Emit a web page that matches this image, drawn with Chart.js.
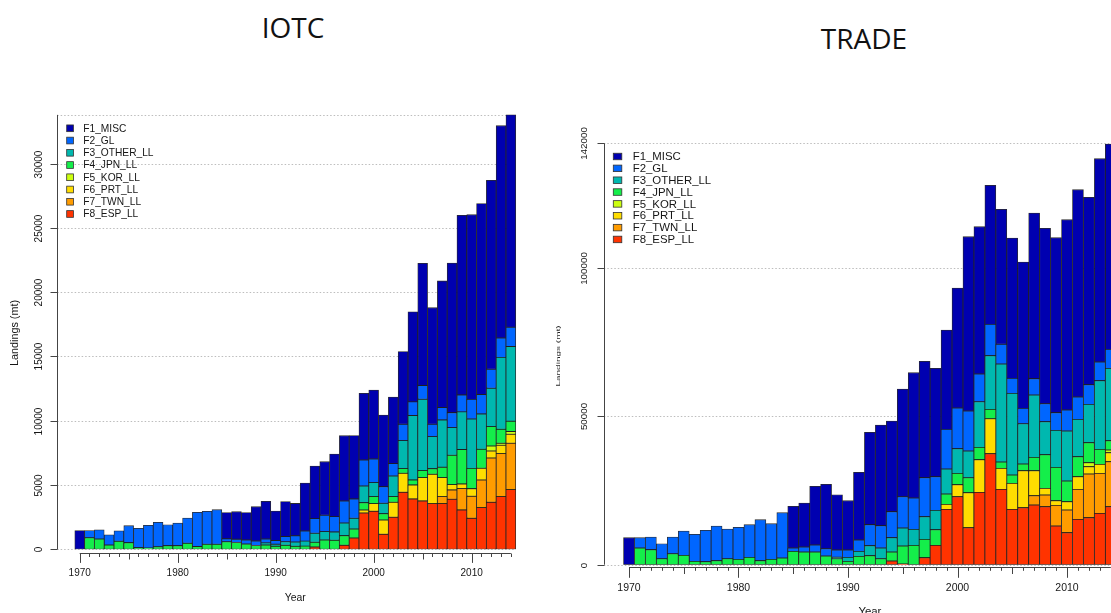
<!DOCTYPE html>
<html>
<head>
<meta charset="utf-8">
<script src="https://cdn.jsdelivr.net/npm/chart.js@4.4.1/dist/chart.umd.min.js"></script>
<style>
  html, body { margin: 0; padding: 0; width: 1111px; height: 613px; overflow: hidden; background: #fff; }
  .panel-title { position: absolute; font-family: "Open Sans", "Noto Sans", sans-serif; font-size: 28px;
                 color: #111; transform: translate(-50%, -50%); white-space: nowrap; line-height: 1; }
  canvas { position: absolute; top: 0; }
</style>
</head>
<body>
<div class="panel-title" style="left:293px; top:27px;">IOTC</div>
<div class="panel-title" style="left:864px; top:38px;">TRADE</div>
<canvas id="iotc" width="550" height="613" style="left:0px;"></canvas>
<canvas id="trade" width="610" height="613" style="left:550px;"></canvas>

<script>
// Years on the x axis
const years = [
  1970, 1971, 1972, 1973, 1974, 1975, 1976, 1977, 1978, 1979,
  1980, 1981, 1982, 1983, 1984, 1985, 1986, 1987, 1988, 1989,
  1990, 1991, 1992, 1993, 1994, 1995, 1996, 1997, 1998, 1999,
  2000, 2001, 2002, 2003, 2004, 2005, 2006, 2007, 2008, 2009,
  2010, 2011, 2012, 2013, 2014
];
const yearLabels = [1970, 1980, 1990, 2000, 2010];

const fleetNames = ['F1_MISC', 'F2_GL', 'F3_OTHER_LL', 'F4_JPN_LL', 'F5_KOR_LL', 'F6_PRT_LL', 'F7_TWN_LL', 'F8_ESP_LL'];
const fleetColors = ['#0000B0', '#0066FF', '#00B8AF', '#14EE4A', '#CCFF10', '#FFDD00', '#FF9C00', '#FF3300'];

// ---- IOTC landings (mt), one row per decade ----
const iotcF1 = [
  1450, 0, 0, 0, 0, 0, 0, 0, 0, 0,
  0, 0, 0, 0, 0, 2030, 2140, 2140, 2670, 2930,
  2300, 2720, 2515, 3720, 4095, 4170, 4870, 5080, 4925, 5185,
  5365, 5575, 5185, 5650, 7000, 9510, 9070, 9850, 11635, 13970,
  14360, 14850, 14695, 16510, 16510
];
const iotcF2 = [
  0, 550, 720, 800, 820, 1320, 1500, 1760, 1900, 1630,
  1765, 1970, 2650, 2565, 2690, 230, 255, 310, 350, 300,
  280, 400, 480, 790, 1140, 1270, 1190, 1710, 1505, 2020,
  1840, 1295, 960, 1270, 1065, 1065, 960, 960, 1165, 1320,
  1530, 1505, 1480, 1505, 1505
];
const iotcF3 = [
  0, 0, 0, 0, 0, 0, 0, 0, 0, 0,
  0, 0, 0, 0, 0, 0, 0, 0, 0, 170,
  170, 280, 340, 390, 700, 650, 650, 985, 830, 1295,
  1090, 805, 1605, 2175, 5005, 5545, 2490, 3680, 2150, 2930,
  3835, 2750, 2980, 5595, 5805
];
const iotcF4 = [
  0, 900, 800, 330, 620, 515, 130, 100, 200, 280,
  280, 465, 225, 390, 390, 590, 530, 410, 295, 330,
  230, 310, 230, 245, 365, 725, 700, 750, 700, 570,
  545, 490, 440, 365, 390, 545, 440, 805, 2280, 2670,
  1580, 1475, 1505, 1090, 805
];
const iotcF5 = [
  0, 0, 0, 0, 0, 0, 0, 0, 0, 0,
  0, 0, 0, 0, 0, 0, 0, 0, 0, 0,
  0, 0, 0, 0, 0, 0, 0, 0, 0, 0,
  0, 0, 0, 0, 0, 0, 0, 0, 0, 0,
  0, 0, 390, 150, 210
];
const iotcF6 = [
  0, 0, 0, 0, 0, 0, 0, 0, 0, 0,
  0, 0, 0, 0, 0, 0, 0, 0, 0, 0,
  0, 0, 0, 0, 0, 0, 0, 0, 0, 230,
  595, 1115, 1165, 1480, 1090, 1815, 2280, 1480, 415, 365,
  595, 910, 545, 650, 700
];
const iotcF7 = [
  0, 0, 0, 0, 0, 0, 0, 0, 0, 0,
  0, 0, 0, 0, 0, 0, 0, 0, 0, 0,
  0, 0, 0, 0, 0, 0, 0, 0, 0, 0,
  0, 0, 0, 0, 0, 0, 0, 545, 725, 1660,
  1710, 2150, 3445, 3345, 3605
];
const iotcF8 = [
  0, 0, 0, 0, 0, 0, 0, 0, 0, 0,
  0, 0, 0, 0, 0, 0, 0, 0, 0, 0,
  0, 0, 0, 0, 180, 0, 0, 310, 880, 2825,
  2955, 1165, 2490, 4430, 3915, 3760, 3550, 3550, 3890, 3060,
  2410, 3240, 3655, 4095, 4640
];
const iotcYTicks = [0, 5000, 10000, 15000, 20000, 25000, 30000];

// ---- TRADE landings (mt), one row per decade ----
const tradeF1 = [
  9100, 0, 0, 0, 0, 0, 0, 0, 0, 0,
  0, 0, 0, 0, 0, 14045, 14830, 19770, 21680, 18650,
  16630, 22805, 31120, 33930, 30560, 36290, 42240, 39210, 36510, 33490,
  40455, 58770, 49670, 46855, 45505, 47310, 49330, 55845, 59105, 58995,
  64160, 69890, 63150, 68540, 69215
];
const tradeF2 = [
  0, 3485, 4270, 5055, 5620, 8200, 9100, 10560, 11685, 10000,
  10785, 11010, 13820, 12020, 15280, 1125, 1685, 2360, 2470, 2420,
  2470, 3820, 7080, 7530, 8765, 10560, 10560, 13145, 11350, 13370,
  13705, 13480, 9325, 10560, 6635, 5055, 5170, 5505, 6065, 5955,
  7080, 7530, 6630, 6290, 6405
];
const tradeF3 = [
  0, 0, 0, 0, 0, 0, 0, 0, 0, 0,
  0, 0, 0, 0, 0, 0, 0, 0, 0, 500,
  1350, 1685, 3370, 3595, 4830, 6065, 5395, 7640, 6515, 8425,
  8315, 8990, 15390, 18095, 33030, 27525, 13595, 21010, 11120, 12470,
  16850, 12580, 12920, 23145, 24380
];
const tradeF4 = [
  0, 5615, 5055, 2020, 3705, 3145, 1125, 1010, 1350, 2020,
  1800, 2470, 1350, 1800, 2245, 4495, 4270, 4270, 2920, 2020,
  1125, 2810, 3035, 2020, 3035, 6065, 6515, 6180, 5280, 3485,
  3820, 5055, 4155, 3145, 2135, 2810, 2245, 4495, 11345, 11235,
  6965, 6740, 6740, 5055, 3145
];
const tradeF5 = [
  0, 0, 0, 0, 0, 0, 0, 0, 0, 0,
  0, 0, 0, 0, 0, 0, 0, 0, 0, 0,
  0, 0, 0, 0, 0, 0, 0, 0, 0, 0,
  0, 0, 0, 0, 0, 0, 0, 0, 0, 0,
  0, 0, 1350, 0, 900
];
const tradeF6 = [
  0, 0, 0, 0, 0, 0, 0, 0, 0, 0,
  0, 0, 0, 0, 0, 0, 0, 0, 0, 0,
  0, 0, 0, 0, 0, 0, 0, 0, 0, 1685,
  4045, 11795, 11010, 11795, 7080, 8765, 12470, 8425, 2245, 1575,
  2810, 4270, 2470, 3035, 3035
];
const tradeF7 = [
  0, 0, 0, 0, 0, 0, 0, 0, 0, 0,
  0, 0, 0, 0, 0, 0, 0, 0, 0, 0,
  0, 0, 0, 0, 0, 0, 0, 0, 0, 0,
  0, 0, 0, 0, 0, 0, 0, 3145, 3935, 6965,
  7640, 10110, 14720, 13480, 15165
];
const tradeF8 = [
  0, 0, 0, 0, 0, 0, 0, 0, 0, 0,
  0, 0, 0, 0, 0, 0, 0, 0, 0, 0,
  0, 0, 0, 0, 1235, 225, 0, 2360, 6515, 18650,
  22920, 12470, 24380, 37410, 25390, 18650, 19210, 20110, 19550, 13030,
  10785, 15280, 15840, 17300, 19550
];
const tradeYTicks = [0, 50000, 100000, 142000];

const FONT = '"Liberation Sans", Arial, Helvetica, sans-serif';
const TEXT = '#161616';
const AXIS = '#444';

// Base-graphics style frame: dotted grid, offset axes, legend in the top-left corner
function basePlot(o) {
  return {
    id: 'basePlot',
    beforeDatasetsDraw(chart) {
      const { ctx, scales: { x, y } } = chart;
      const left = chart.chartArea.left;
      const right = x.getPixelForValue(o.gridEndYear);
      ctx.save();
      ctx.strokeStyle = '#bdbdbd';
      ctx.lineWidth = 1;
      ctx.setLineDash([1.5, 2]);
      for (const v of o.gridValues) {
        const py = Math.round(y.getPixelForValue(v)) + 0.5;
        ctx.beginPath(); ctx.moveTo(left, py); ctx.lineTo(right, py); ctx.stroke();
      }
      ctx.restore();
    },
    afterDatasetsDraw(chart) {
      const { ctx, scales: { x, y } } = chart;
      const ax = Math.round(chart.chartArea.left) + 0.5;
      ctx.save();
      ctx.strokeStyle = AXIS;
      ctx.fillStyle = TEXT;
      ctx.lineWidth = 1;

      // y axis line, ticks and rotated labels
      ctx.beginPath();
      ctx.moveTo(ax, y.getPixelForValue(0));
      ctx.lineTo(ax, y.getPixelForValue(o.yAxisTop));
      ctx.stroke();
      ctx.font = o.yTickFont + 'px ' + FONT;
      ctx.textAlign = 'center';
      ctx.textBaseline = 'middle';
      for (const v of o.yTicks) {
        const py = Math.round(y.getPixelForValue(v)) + 0.5;
        ctx.beginPath(); ctx.moveTo(ax - 7, py); ctx.lineTo(ax, py); ctx.stroke();
        ctx.save();
        ctx.translate(ax - o.yLabelGap, py);
        ctx.rotate(-Math.PI / 2);
        ctx.fillText(String(v), 0, 0);
        ctx.restore();
      }

      // x axis line below the bars with yearly / 5-year / decade ticks
      const axisY = Math.round(y.getPixelForValue(0) + o.xAxisGap) + 0.5;
      ctx.beginPath();
      ctx.moveTo(x.getPixelForValue(years[0]), axisY);
      ctx.lineTo(x.getPixelForValue(years[years.length - 1]), axisY);
      ctx.stroke();
      ctx.font = o.xTickFont + 'px ' + FONT;
      for (const yr of years) {
        const px = Math.round(x.getPixelForValue(yr)) + 0.5;
        const len = yr % 10 === 0 ? o.tickLen[2] : (yr % 5 === 0 ? o.tickLen[1] : o.tickLen[0]);
        ctx.beginPath(); ctx.moveTo(px, axisY); ctx.lineTo(px, axisY + len); ctx.stroke();
      }
      for (const yr of yearLabels) {
        ctx.fillText(String(yr), x.getPixelForValue(yr), axisY + o.xLabelGap);
      }

      // axis titles
      const midX = (chart.chartArea.left + chart.chartArea.right) / 2;
      ctx.font = o.xTitleFont + 'px ' + FONT;
      ctx.fillText('Year', midX, axisY + o.xTitleGap);

      ctx.save();
      ctx.translate(o.yTitle.x, o.yTitle.y);
      ctx.rotate(-Math.PI / 2);
      ctx.scale(1, o.yTitle.squeeze);
      ctx.globalAlpha = o.yTitle.alpha;
      ctx.font = o.yTitle.size + 'px ' + FONT;
      ctx.fillText('Landings (mt)', 0, 0);
      ctx.restore();

      // legend, listed from the top of the stack down
      const L = o.legend;
      ctx.font = L.font + 'px ' + FONT;
      ctx.textAlign = 'left';
      const ds = chart.data.datasets.slice().reverse();
      ds.forEach((d, i) => {
        const cy = L.y0 + i * L.dy;
        ctx.fillStyle = d.backgroundColor;
        ctx.fillRect(L.x, cy - L.h / 2, L.w, L.h);
        ctx.strokeStyle = '#333';
        ctx.lineWidth = 0.8;
        ctx.strokeRect(L.x, cy - L.h / 2, L.w, L.h);
        ctx.fillStyle = TEXT;
        ctx.fillText(d.label, L.textX, cy + 0.5);
      });
      ctx.restore();
    }
  };
}

function stackedBars(canvasId, series, o) {
  const datasets = [];
  for (let i = series.length - 1; i >= 0; i--) {
    datasets.push({
      label: fleetNames[i],
      data: series[i].map(v => (v === 0 ? null : v)),
      backgroundColor: fleetColors[i],
      borderColor: 'rgba(20,20,20,0.9)',
      borderWidth: 0.8,
      borderSkipped: false,
      barPercentage: 1,
      categoryPercentage: 1
    });
  }
  return new Chart(document.getElementById(canvasId), {
    type: 'bar',
    data: { labels: years, datasets },
    options: {
      responsive: false,
      animation: false,
      events: [],
      layout: { padding: o.padding },
      scales: {
        x: { type: 'linear', min: 1967.7, max: 2016.3, stacked: true, display: false, offset: false },
        y: { type: 'linear', min: 0, max: o.yMax, stacked: true, display: false }
      },
      plugins: { legend: { display: false }, tooltip: { enabled: false }, title: { display: false } }
    },
    plugins: [basePlot(o)]
  });
}

const iotcSeries = [iotcF1, iotcF2, iotcF3, iotcF4, iotcF5, iotcF6, iotcF7, iotcF8];
const tradeSeries = [tradeF1, tradeF2, tradeF3, tradeF4, tradeF5, tradeF6, tradeF7, tradeF8];
const iotcTop = Math.max(...years.map((_, k) => iotcSeries.reduce((s, a) => s + a[k], 0)));

stackedBars('iotc', iotcSeries, {
  padding: { left: 57.16, right: 16.6, top: 112.06, bottom: 63.7 },
  yMax: 34000,
  yAxisTop: iotcTop,
  yTicks: iotcYTicks,
  gridValues: iotcYTicks.concat([iotcTop]),
  gridEndYear: 2014.5,
  yTickFont: 10, yLabelGap: 18.7,
  xTickFont: 10, xAxisGap: 4, xLabelGap: 20, xTitleFont: 10.4, xTitleGap: 44.2,
  tickLen: [3.5, 6, 9.4],
  yTitle: { x: 15, y: 333, size: 10.8, squeeze: 1, alpha: 1 },
  legend: { x: 66.7, w: 6.7, h: 6.7, y0: 128.3, dy: 12.24, textX: 83.3, font: 10.2 }
});

stackedBars('trade', tradeSeries, {
  padding: { left: 53.8, right: 24, top: 134.48, bottom: 48.3 },
  yMax: 145000,
  yAxisTop: 142000,
  yTicks: tradeYTicks,
  gridValues: tradeYTicks,
  gridEndYear: 2016.3,
  yTickFont: 9.8, yLabelGap: 20.5,
  xTickFont: 10.5, xAxisGap: 2.3, xLabelGap: 20.3, xTitleFont: 11.4, xTitleGap: 44,
  tickLen: [3.3, 6.5, 10.3],
  yTitle: { x: 9, y: 356, size: 10, squeeze: 0.5, alpha: 0.95 },
  legend: { x: 63.3, w: 8.5, h: 6.5, y0: 156.5, dy: 11.85, textX: 82.7, font: 11.4 }
});
</script>
</body>
</html>
